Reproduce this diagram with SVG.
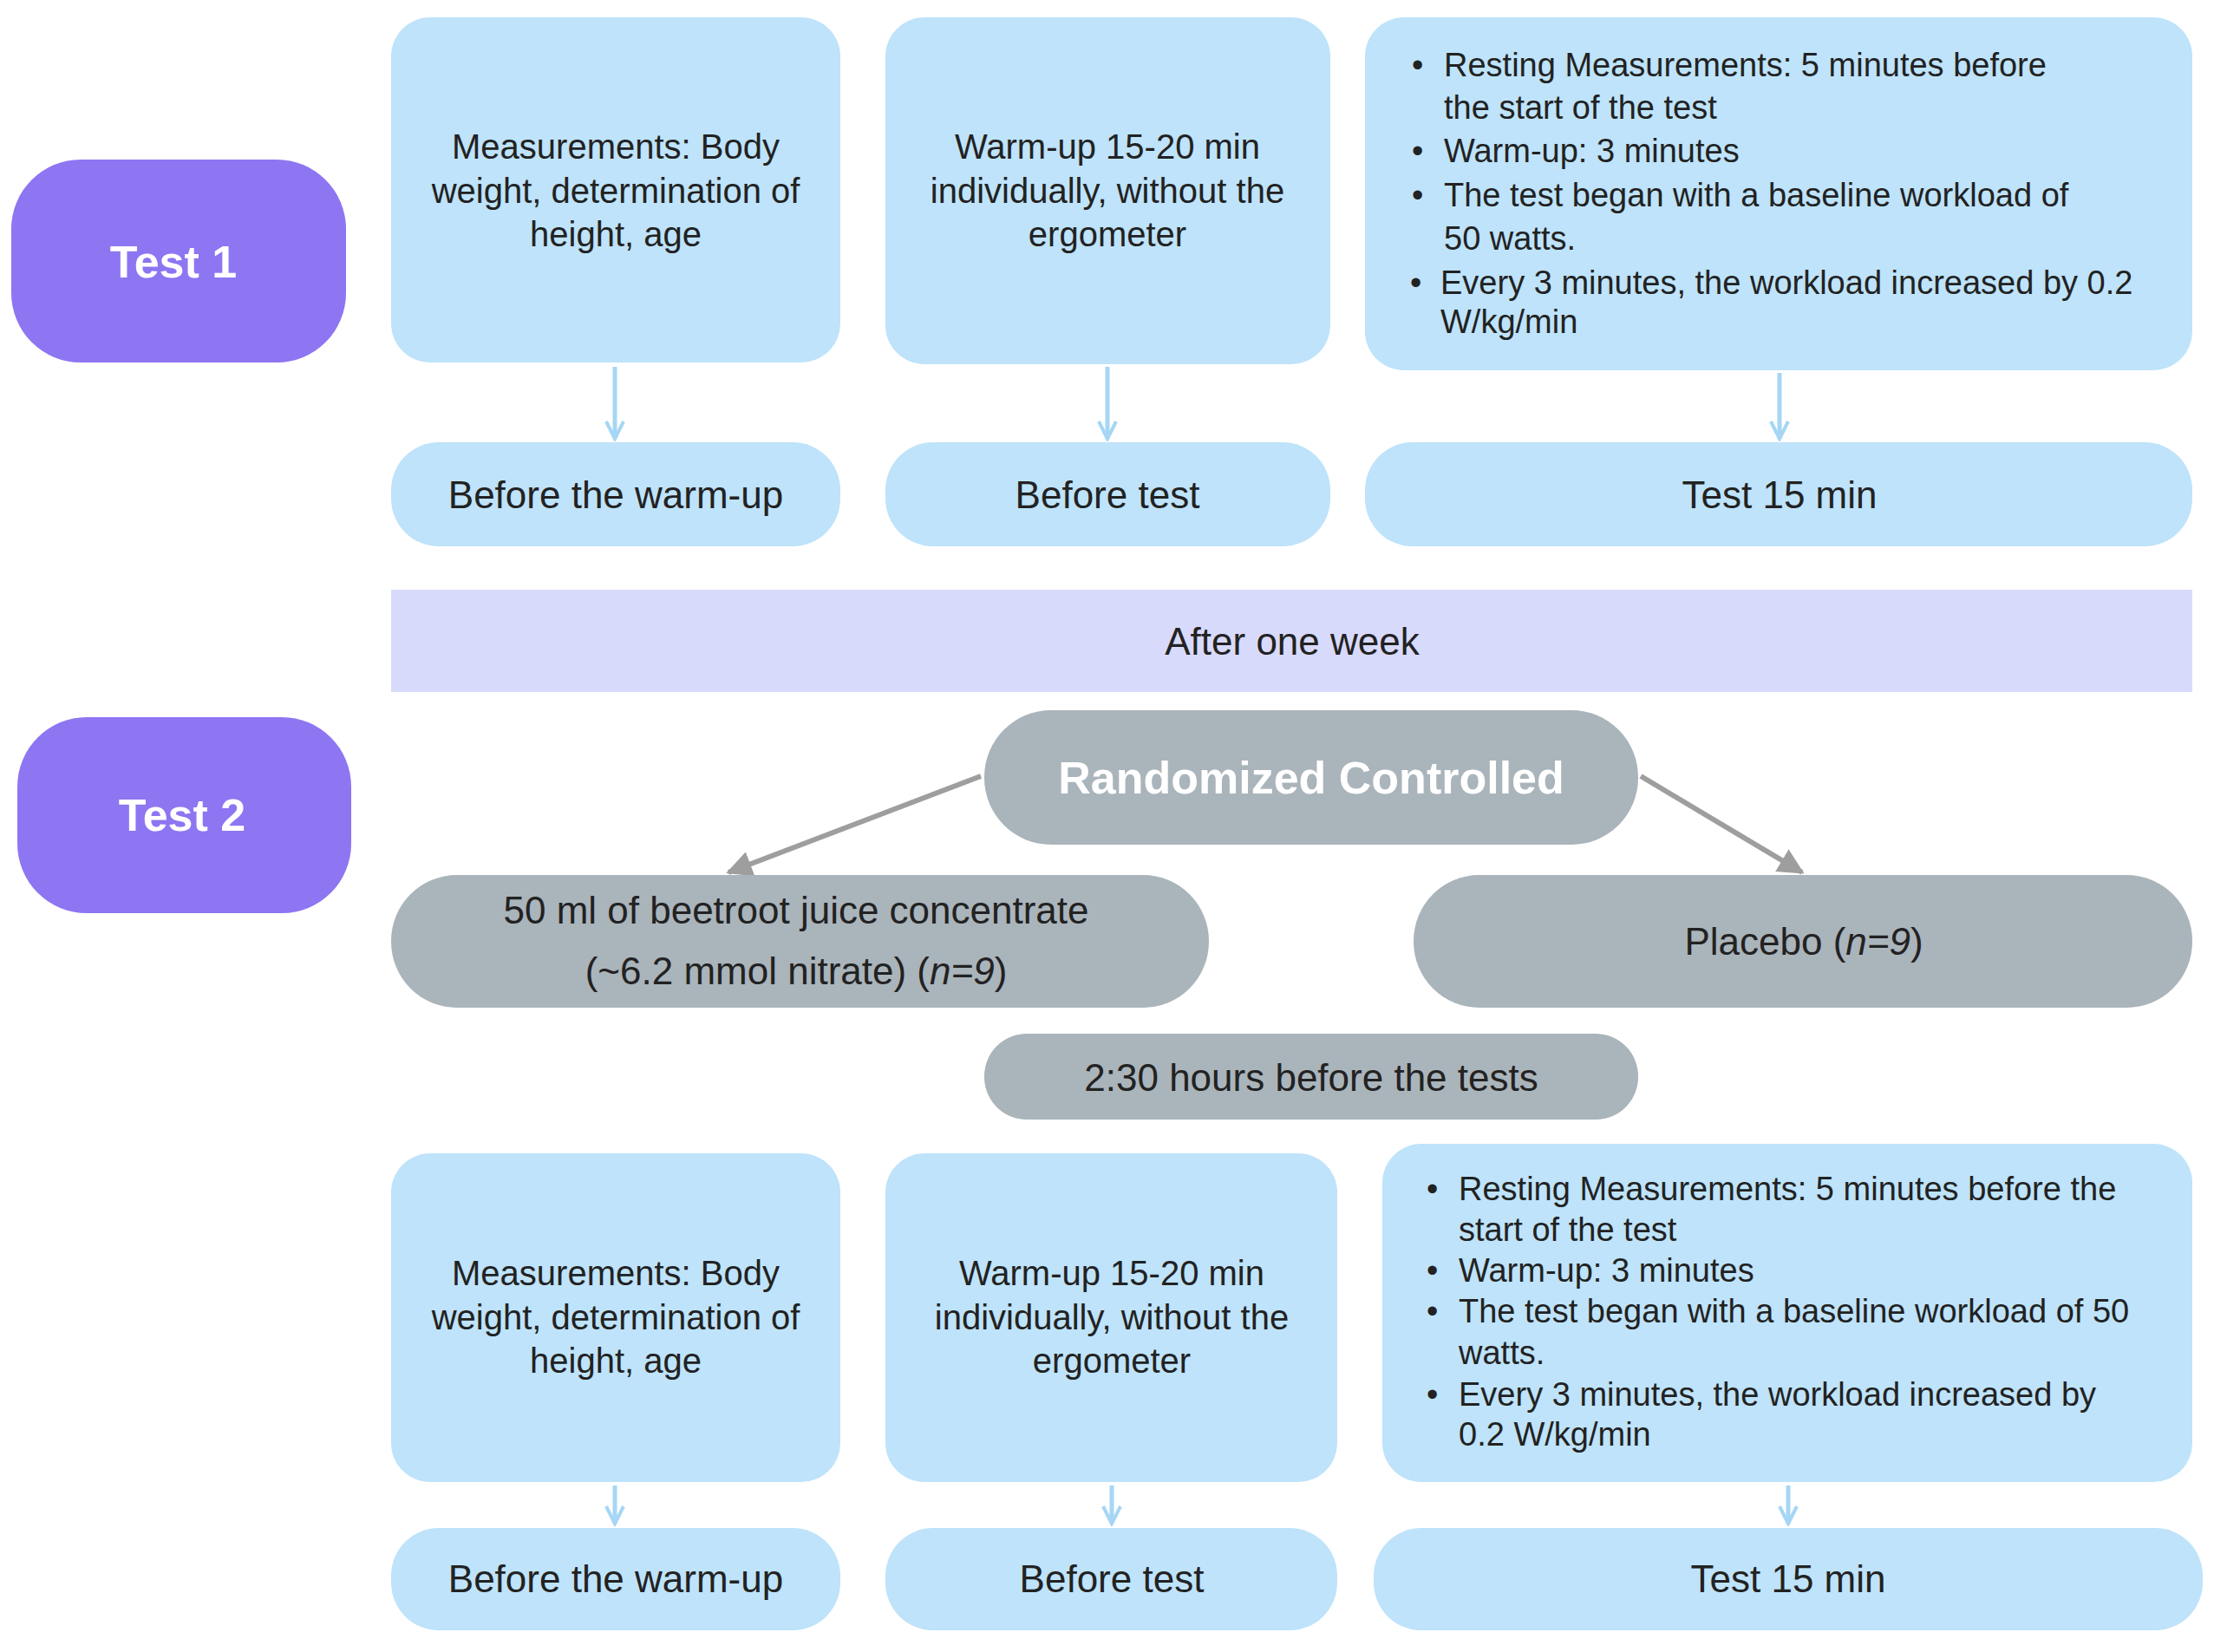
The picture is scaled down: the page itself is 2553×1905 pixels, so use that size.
<svg xmlns="http://www.w3.org/2000/svg" width="2553" height="1905" viewBox="0 0 2553 1905">
<defs>
<style>
.b{fill:#BEE3FA}
.p{fill:#8E75F2}
.g{fill:#AAB4BB}
.t{font-family:"Liberation Sans",Arial,sans-serif;fill:#222;dominant-baseline:central}
.m{font-size:40px;text-anchor:middle}
.l{font-size:44px;text-anchor:middle}
.s{font-size:38px}
.w{font-family:"Liberation Sans",Arial,sans-serif;font-weight:bold;fill:#fff;font-size:52px;text-anchor:middle;dominant-baseline:central}
.ab{stroke:#A6D6F5;stroke-width:5;fill:none}
.ag{stroke:#9E9E9E;stroke-width:6;fill:none}
</style>
<marker id="mb" viewBox="0 0 10 10" refX="9" refY="5" markerWidth="5" markerHeight="5" orient="auto"><path d="M1,1 L9,5 L1,9" fill="none" stroke="#A6D6F5" stroke-width="1.6"/></marker>
<marker id="mg" viewBox="0 0 10 10" refX="9" refY="5" markerWidth="5" markerHeight="5" orient="auto"><path d="M0,0 L10,5 L0,10z" fill="#9E9E9E"/></marker>
</defs>
<rect width="2553" height="1905" fill="#fff"/>
<g id="connectors">
<path class="ab" d="M709,423 V506" marker-end="url(#mb)"/>
<path class="ab" d="M1277,423 V506" marker-end="url(#mb)"/>
<path class="ab" d="M2052,430 V506" marker-end="url(#mb)"/>
<path class="ag" d="M1131,895 L840,1006" marker-end="url(#mg)"/>
<path class="ag" d="M1892,895 L2078,1006" marker-end="url(#mg)"/>
<path class="ab" d="M709,1713 V1757" marker-end="url(#mb)"/>
<path class="ab" d="M1282,1713 V1757" marker-end="url(#mb)"/>
<path class="ab" d="M2062,1713 V1757" marker-end="url(#mb)"/>
</g>
<g id="test1"><rect class="p" x="13" y="184" width="386" height="234" rx="80"/><text class="w" x="200" y="302">Test 1</text></g>
<g id="t1box1"><rect class="b" x="451" y="20" width="518" height="398" rx="45"/><text class="t m" x="710" y="169">Measurements: Body</text><text class="t m" x="710" y="220">weight, determination of</text><text class="t m" x="710" y="270">height, age</text></g>
<g id="t1box2"><rect class="b" x="1021" y="20" width="513" height="400" rx="45"/><text class="t m" x="1277" y="169">Warm-up 15-20 min</text><text class="t m" x="1277" y="220">individually, without the</text><text class="t m" x="1277" y="270">ergometer</text></g>
<g id="t1box3"><rect class="b" x="1574" y="20" width="954" height="407" rx="45"/>
<g class="t s"><text x="1628" y="75">•</text><text x="1665" y="75">Resting Measurements: 5 minutes before</text><text x="1665" y="124">the start of the test</text><text x="1628" y="174">•</text><text x="1665" y="174">Warm-up: 3 minutes</text><text x="1628" y="225">•</text><text x="1665" y="225">The test began with a baseline workload of</text><text x="1665" y="275">50 watts.</text><text x="1626" y="326">•</text><text x="1661" y="326">Every 3 minutes, the workload increased by 0.2</text><text x="1661" y="371">W/kg/min</text></g></g>
<g id="t1r1"><rect class="b" x="451" y="510" width="518" height="120" rx="55"/><text class="t l" x="710" y="570">Before the warm-up</text></g>
<g id="t1r2"><rect class="b" x="1021" y="510" width="513" height="120" rx="55"/><text class="t l" x="1277" y="570">Before test</text></g>
<g id="t1r3"><rect class="b" x="1574" y="510" width="954" height="120" rx="55"/><text class="t l" x="2052" y="570">Test 15 min</text></g>
<g id="week"><rect fill="#D8DAFC" x="451" y="680" width="2077" height="118"/><text class="t l" x="1490" y="739">After one week</text></g>
<g id="test2"><rect class="p" x="20" y="827" width="385" height="226" rx="80"/><text class="w" x="210" y="940">Test 2</text></g>
<g id="rand"><rect class="g" x="1135" y="819" width="754" height="155" rx="77"/><text class="w" x="1512" y="897">Randomized Controlled</text></g>
<g id="beet"><rect class="g" x="451" y="1009" width="943" height="153" rx="76"/><text class="t l" x="918" y="1049">50 ml of beetroot juice concentrate</text><text class="t l" x="918" y="1119">(~6.2 mmol nitrate) (<tspan font-style="italic">n=9</tspan>)</text></g>
<g id="placebo"><rect class="g" x="1630" y="1009" width="898" height="153" rx="76"/><text class="t l" x="2080" y="1085">Placebo (<tspan font-style="italic">n=9</tspan>)</text></g>
<g id="hours"><rect class="g" x="1135" y="1192" width="754" height="99" rx="49"/><text class="t l" x="1512" y="1242">2:30 hours before the tests</text></g>
<g id="t2box1"><rect class="b" x="451" y="1330" width="518" height="379" rx="45"/><text class="t m" x="710" y="1468">Measurements: Body</text><text class="t m" x="710" y="1519">weight, determination of</text><text class="t m" x="710" y="1569">height, age</text></g>
<g id="t2box2"><rect class="b" x="1021" y="1330" width="521" height="379" rx="45"/><text class="t m" x="1282" y="1468">Warm-up 15-20 min</text><text class="t m" x="1282" y="1519">individually, without the</text><text class="t m" x="1282" y="1569">ergometer</text></g>
<g id="t2box3"><rect class="b" x="1594" y="1319" width="934" height="390" rx="45"/>
<g class="t s"><text x="1645" y="1371">•</text><text x="1682" y="1371">Resting Measurements: 5 minutes before the</text><text x="1682" y="1418">start of the test</text><text x="1645" y="1465">•</text><text x="1682" y="1465">Warm-up: 3 minutes</text><text x="1645" y="1512">•</text><text x="1682" y="1512">The test began with a baseline workload of 50</text><text x="1682" y="1560">watts.</text><text x="1645" y="1608">•</text><text x="1682" y="1608">Every 3 minutes, the workload increased by</text><text x="1682" y="1654">0.2 W/kg/min</text></g></g>
<g id="t2r1"><rect class="b" x="451" y="1762" width="518" height="118" rx="55"/><text class="t l" x="710" y="1820">Before the warm-up</text></g>
<g id="t2r2"><rect class="b" x="1021" y="1762" width="521" height="118" rx="55"/><text class="t l" x="1282" y="1820">Before test</text></g>
<g id="t2r3"><rect class="b" x="1584" y="1762" width="956" height="118" rx="55"/><text class="t l" x="2062" y="1820">Test 15 min</text></g>
</svg>
